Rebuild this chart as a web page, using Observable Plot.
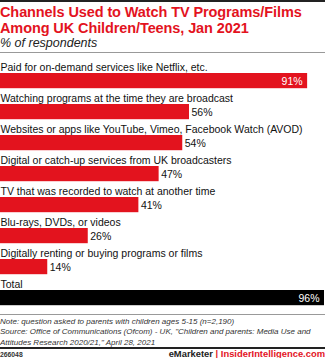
<!DOCTYPE html>
<html><head><meta charset="utf-8">
<script src="https://cdn.jsdelivr.net/npm/d3@7"></script>
<script src="https://cdn.jsdelivr.net/npm/@observablehq/plot@0.6"></script>
<style>
body{margin:0;width:325px;height:358px;overflow:hidden;background:#fff;font-family:"Liberation Sans",Arial,sans-serif;position:relative}
#topline{position:absolute;left:0;top:0;width:325px;height:2px;background:#222}
#title{position:absolute;left:0;top:4px;font-weight:bold;font-size:14.5px;line-height:16px;color:#e3131e;letter-spacing:-0.1px;white-space:nowrap}
#sub{position:absolute;left:0;top:35.5px;font-style:italic;font-size:12.5px;color:#222}
#l1{position:absolute;left:0;top:52px;width:325px;height:1px;background:#999}
#chart{position:absolute;left:0;top:56px}
#l2{position:absolute;left:0;top:314px;width:325px;height:1px;background:#999}
#note{position:absolute;left:0;top:316.5px;font-style:italic;font-size:8px;line-height:10.5px;color:#333;white-space:nowrap}
#l3{position:absolute;left:0;top:347px;width:325px;height:2px;background:#222}
#id{position:absolute;left:0;top:350.5px;font-size:6.8px;line-height:7px;font-weight:bold;color:#333}
#brand{position:absolute;right:0;top:349.5px;font-size:9.4px;line-height:8.5px;font-weight:bold;color:#222;white-space:nowrap}
#brand span{color:#e3131e}
</style></head><body>
<div id="topline"></div>
<div id="title">Channels Used to Watch TV Programs/Films<br>Among UK Children/Teens, Jan 2021</div>
<div id="sub">% of respondents</div>
<div id="l1"></div>
<div id="chart"></div>
<div id="l2"></div>
<div id="note">Note: question asked to parents with children ages 5-15 (n=2,190)<br>Source: Office of Communications (Ofcom) - UK, "Children and parents: Media Use and<br>Attitudes Research 2020/21," April 28, 2021</div>
<div id="l3"></div>
<div id="id">266048</div>
<div id="brand">eMarketer <span>|</span> <span>InsiderIntelligence.com</span></div>
<script>
const categories = [
  "Paid for on-demand services like Netflix, etc.",
  "Watching programs at the time they are broadcast",
  "Websites or apps like YouTube, Vimeo, Facebook Watch (AVOD)",
  "Digital or catch-up services from UK broadcasters",
  "TV that was recorded to watch at another time",
  "Blu-rays, DVDs, or videos",
  "Digitally renting or buying programs or films",
  "Total"
];
const values = [91, 56, 54, 47, 41, 26, 14, 96];
const data = categories.map((c, i) => ({category: c, value: values[i], total: c === "Total"}));
const inside = d => d.value >= 90;

const chart = Plot.plot({
  width: 325,
  height: 254,
  marginTop: 2,
  marginBottom: 1.6,
  marginLeft: 0,
  marginRight: 0,
  x: {domain: [0, 96], range: [0, 324], axis: null},
  y: {domain: categories, padding: 0, axis: null},
  style: {fontFamily: "Liberation Sans, Arial, sans-serif", background: "#fff"},
  marks: [
    Plot.barX(data, {x: "value", y: "category", fill: d => d.total ? "#000" : "#e3131e", insetTop: 14, insetBottom: 1.8}),
    Plot.text(data, {x: 0, y: "category", text: "category", textAnchor: "start", lineAnchor: "bottom", dy: -4, fontSize: 10.5, fill: "#111"}),
    Plot.text(data.filter(inside), {x: "value", y: "category", text: d => d.value + "%", textAnchor: "end", dx: -5, dy: 6.5, fontSize: 10.5, fill: "#fff"}),
    Plot.text(data.filter(d => !inside(d)), {x: "value", y: "category", text: d => d.value + "%", textAnchor: "start", dx: 2, dy: 6.5, fontSize: 10.5, fill: "#111"})
  ]
});
document.getElementById("chart").appendChild(chart);
</script>
</body></html>
